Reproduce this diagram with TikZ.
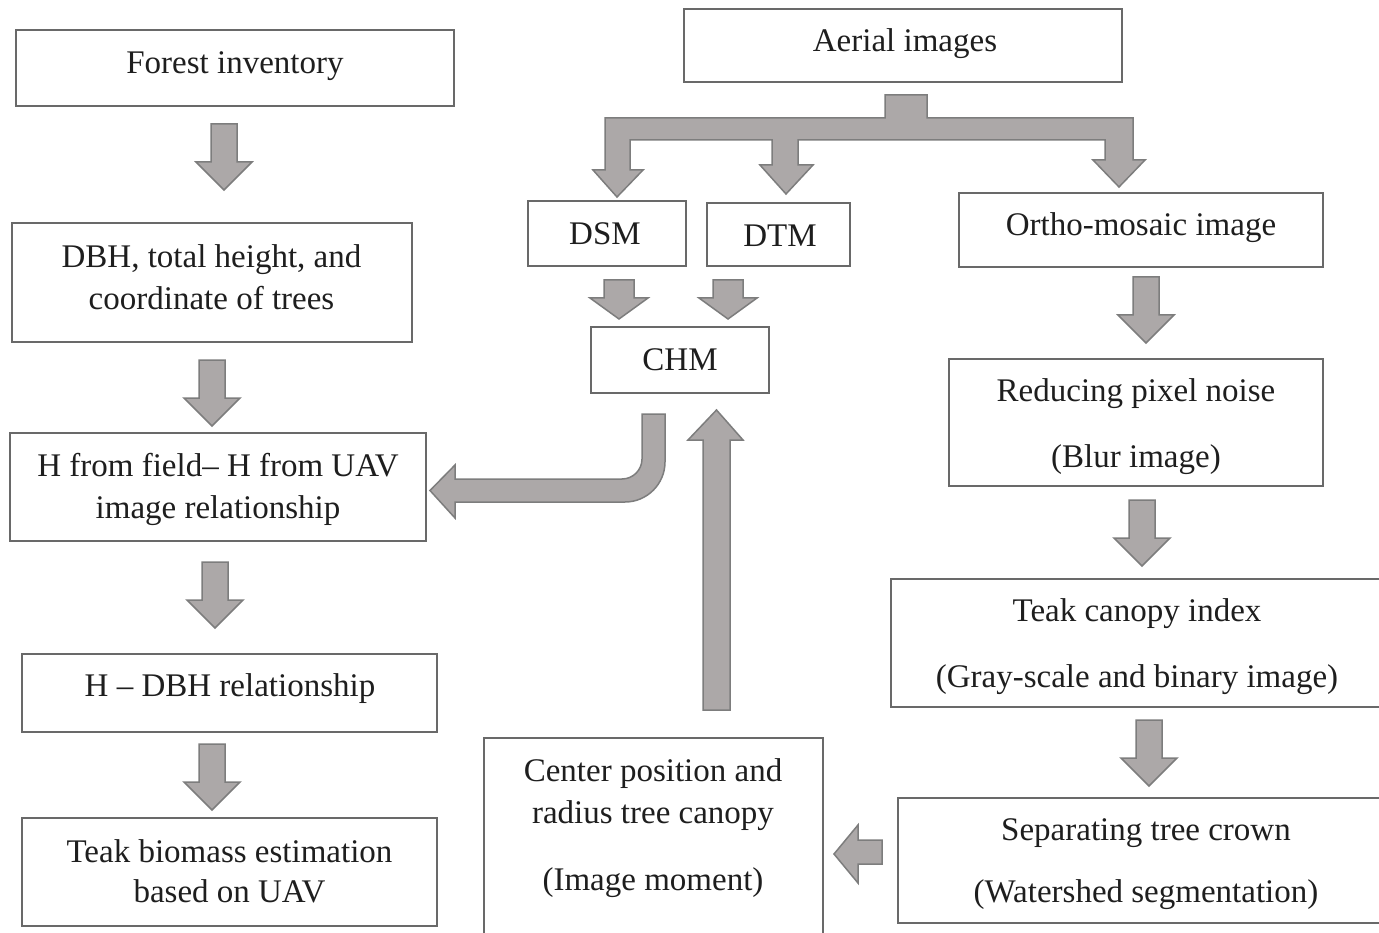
\documentclass[tikz,border=0pt]{standalone}
\usepackage{fontspec}
\setmainfont{Liberation Serif}
\definecolor{boxc}{RGB}{105,105,105}
\definecolor{txtc}{RGB}{30,30,30}
\definecolor{arrf}{RGB}{172,168,168}
\definecolor{arrd}{RGB}{125,125,125}
\tikzset{
  box/.style={draw=boxc, line width=2pt, inner sep=0pt, outer sep=0pt},
  txt/.style={text=txtc, font=\fontsize{33}{42}\selectfont, align=center, inner sep=0pt},
  blk/.style={fill=arrf, draw=arrd, line width=1.5pt, line join=miter},
  pics/darr/.style args={#1/#2/#3/#4}{code={
    \draw[blk] ({-#1/2},0) -- ({#1/2},0) -- ({#1/2},#2) -- ({#3/2},#2) -- (0,{#2+#4})
      -- ({-#3/2},#2) -- ({-#1/2},#2) -- cycle;}}
}
\begin{document}
\begin{tikzpicture}[x=1pt,y=-1pt]
\useasboundingbox (0,0) rectangle (1379,933);
\clip (0,0) rectangle (1379,933);
\fill[white] (0,0) rectangle (1379,933);

% boxes
\node[box, minimum width=438pt, minimum height=76pt]  (b1)  at (235,68) {};
\node[box, minimum width=400pt, minimum height=119pt] (b2)  at (212,282.5) {};
\node[box, minimum width=416pt, minimum height=108pt] (b3)  at (218,487) {};
\node[box, minimum width=415pt, minimum height=78pt]  (b4)  at (229.5,693) {};
\node[box, minimum width=415pt, minimum height=108pt] (b5)  at (229.5,872) {};
\node[box, minimum width=438pt, minimum height=73pt]  (b6)  at (903,45.5) {};
\node[box, minimum width=158pt, minimum height=65pt]  (b7)  at (607,233.5) {};
\node[box, minimum width=143pt, minimum height=63pt]  (b8)  at (778.5,234.5) {};
\node[box, minimum width=178pt, minimum height=66pt]  (b9)  at (680,360) {};
\node[box, minimum width=364pt, minimum height=74pt]  (b10) at (1141,230) {};
\node[box, minimum width=374pt, minimum height=127pt] (b11) at (1136,422.5) {};
\node[box, minimum width=520pt, minimum height=128pt] (b12) at (1151,643) {};
\node[box, minimum width=510pt, minimum height=125pt] (b13) at (1153,860.5) {};
\node[box, minimum width=339pt, minimum height=230pt] (b14) at (653.5,853) {};

% texts
\node[txt] (t1)  at (235,66) {Forest inventory};
\node[txt] (t2)  at (211.5,277) {DBH, total height, and\\coordinate of trees};
\node[txt] (t3)  at (218,489) {H from field-- H from UAV\\image relationship};
\node[txt] (t4)  at (230,689) {H -- DBH relationship};
\node[txt] (t5)  at (229.5,871) {Teak biomass estimation\\[-2pt]based on UAV};
\node[txt] (t6)  at (905,44) {Aerial images};
\node[txt] (t7)  at (605,234) {DSM};
\node[txt] (t8)  at (780,236) {DTM};
\node[txt] (t9)  at (680,360) {CHM};
\node[txt] (t10) at (1141,228) {Ortho-mosaic image};
\node[txt] (t11) at (1136,427) {Reducing pixel noise\\[24pt](Blur image)};
\node[txt] (t12) at (1137,647) {Teak canopy index\\[24pt](Gray-scale and binary image)};
\node[txt] (t13) at (1146,864) {Separating tree crown\\[20pt](Watershed segmentation)};
\node[txt] (t14) at (653,828) {Center position and\\radius tree canopy\\[25pt](Image moment)};

% straight block arrows
\pic at (224,124)  {darr=26/38/56/28};
\pic at (212,360)  {darr=26/38/56/28};
\pic at (215,562)  {darr=26/38/56/28};
\pic at (212,744)  {darr=26/38/56/28};
\pic at (1146,277) {darr=26/38/56/28};
\pic at (1142,500) {darr=26/38/56/28};
\pic at (1149,720) {darr=26/38/56/28};
\pic at (619,280)  {darr=30/18/58/21};
\pic at (728,280)  {darr=30/18/58/21};

% branching arrow from aerial images
\draw[blk] (885,95) -- (927,95) -- (927,118) -- (1133,118) -- (1133,160) -- (1145,160)
  -- (1119,187) -- (1093,160) -- (1105,160) -- (1105,140) -- (798,140) -- (798,165)
  -- (813,165) -- (786,194) -- (760,165) -- (772,165) -- (772,140) -- (630,140)
  -- (630,170) -- (643,170) -- (617,197) -- (593,170) -- (605,170) -- (605,118)
  -- (885,118) -- cycle;

% curved arrow from CHM to H relationship
\draw[blk] (642,414) -- (665,414) -- (665,462) .. controls (665,484) and (647,502) .. (625,502)
  -- (455,502) -- (455,518) -- (430,490.5) -- (455,465) -- (455,479) -- (622,479)
  .. controls (633,479) and (642,470) .. (642,459) -- cycle;

% up arrow to CHM
\draw[blk] (703,710) -- (730,710) -- (730,440) -- (743,440) -- (716.5,410) -- (688,440)
  -- (703,440) -- cycle;

% left arrow from separating to center position
\draw[blk] (882,840) -- (882,864) -- (858,864) -- (858,883) -- (834,854) -- (858,825)
  -- (858,840) -- cycle;
\end{tikzpicture}
\end{document}
